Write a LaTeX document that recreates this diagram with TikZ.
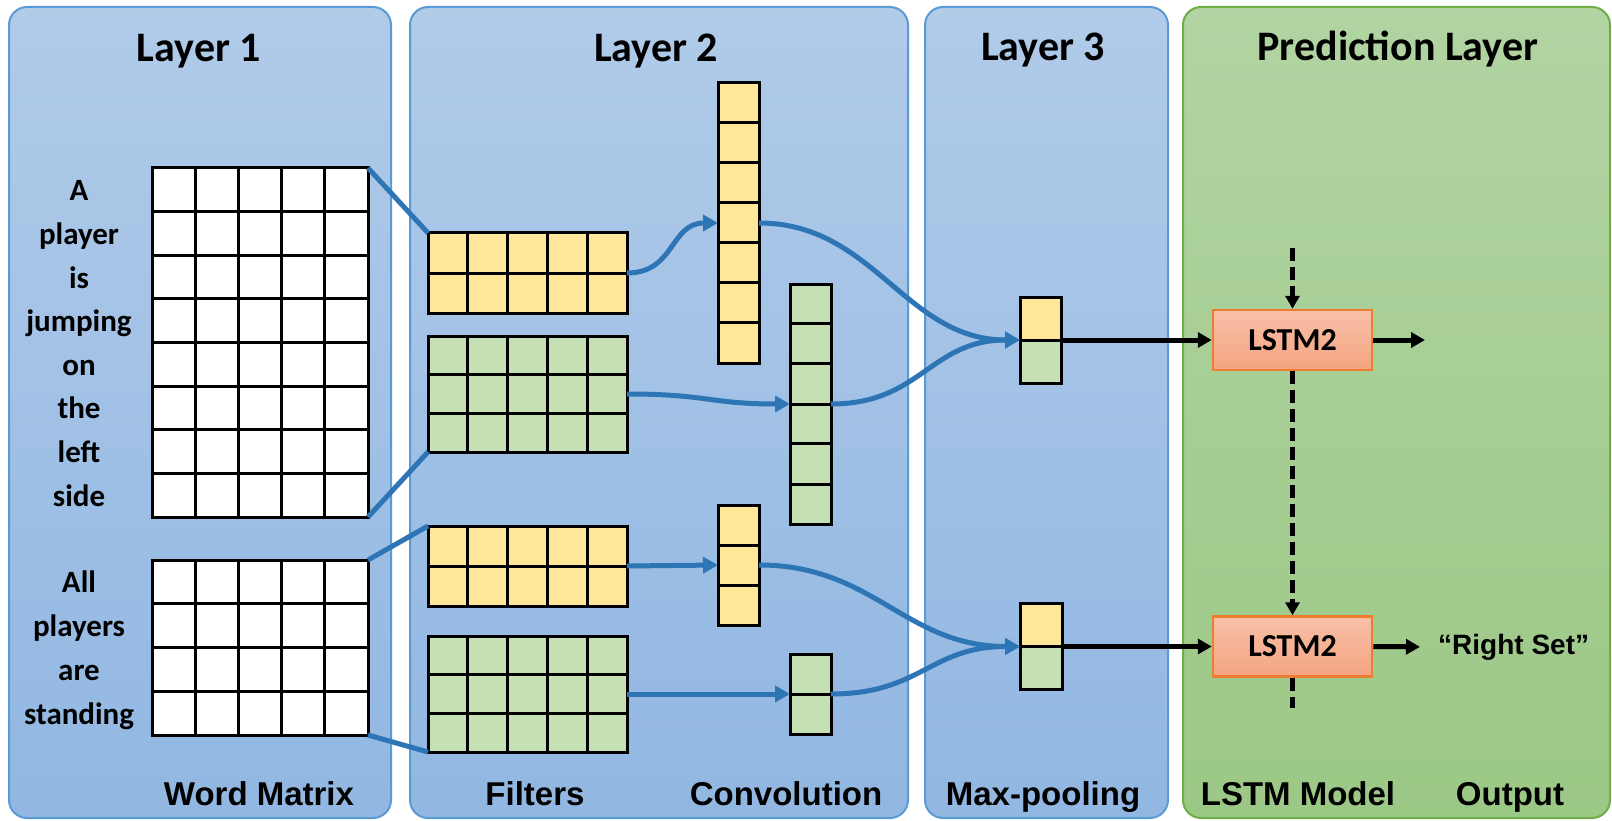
\documentclass[tikz,border=0pt]{standalone}
\usepackage{fontspec}
\setmainfont{Carlito}
\newfontfamily\labfont{Liberation Sans}
\usetikzlibrary{arrows.meta,calc}

\definecolor{bluetop}{RGB}{177,203,233}
\definecolor{bluebot}{RGB}{145,183,226}
\definecolor{blueedge}{RGB}{91,155,213}
\definecolor{greentop}{RGB}{177,212,162}
\definecolor{greenbot}{RGB}{156,200,134}
\definecolor{greenedge}{RGB}{112,173,71}
\definecolor{cellyellow}{RGB}{255,230,153}
\definecolor{cellgreen}{RGB}{197,224,180}
\definecolor{lstmtop}{RGB}{248,192,168}
\definecolor{lstmbot}{RGB}{244,164,128}
\definecolor{lstmedge}{RGB}{237,125,49}
\definecolor{connblue}{RGB}{46,117,182}

% inner lines of a cell grid drawn over a node
\newcommand\cellgrid[3]{%
  \ifnum#2>1
    \foreach \i in {2,...,#2}{%
      \pgfmathsetmacro\gf{(\i-1)/#2}%
      \draw[cellline] ($(#1.north west)!\gf!(#1.north east)$) -- ($(#1.south west)!\gf!(#1.south east)$);}%
  \fi
  \ifnum#3>1
    \foreach \j in {2,...,#3}{%
      \pgfmathsetmacro\gf{(\j-1)/#3}%
      \draw[cellline] ($(#1.north west)!\gf!(#1.south west)$) -- ($(#1.north east)!\gf!(#1.south east)$);}%
  \fi}

\tikzset{
  panel/.style={rounded corners=18pt, draw=blueedge, line width=2pt, top color=bluetop, bottom color=bluebot},
  gpanel/.style={rounded corners=18pt, draw=greenedge, line width=2pt, top color=greentop, bottom color=greenbot},
  title/.style={anchor=base, font=\bfseries\fontsize{42}{50}\selectfont},
  foot/.style={anchor=base, font=\labfont\bfseries\fontsize{33}{40}\selectfont},
  word/.style={anchor=base, font=\bfseries\fontsize{31}{36}\selectfont},
  gridbox/.style={draw=black, line width=3pt, inner sep=0pt, outer sep=0pt},
  cellline/.style={draw=black, line width=3pt},
  conn/.style={draw=connblue, line width=5pt},
  connarrow/.style={conn, -{Triangle[length=15pt,width=16pt]}},
  blk/.style={draw=black, line width=5pt, -{Triangle[length=14pt,width=15pt]}},
  dashline/.style={draw=black, line width=5pt, dash pattern=on 13pt off 6pt},
  lstmbox/.style={draw=lstmedge, line width=2.5pt, top color=lstmtop, bottom color=lstmbot,
    minimum width=159pt, minimum height=60pt, inner sep=0pt, font=\bfseries\fontsize{32}{36}\selectfont},
}

\begin{document}
\begin{tikzpicture}[x=1pt, y=-1pt]
\useasboundingbox (0,0) rectangle (1612,821);

% panels
\path[panel] (9,7) rectangle (391,818);
\path[panel] (410,7) rectangle (908,818);
\path[panel] (925,7) rectangle (1168,818);
\path[gpanel] (1183,7) rectangle (1610,818);

% titles
\node[title] (t1) at (199,62) {Layer 1};
\node[title] (t2) at (656,62) {Layer 2};
\node[title] (t3) at (1043,61) {Layer 3};
\node[title] (t4) at (1398,61) {Prediction Layer};

% bottom labels
\node[foot] (f1) at (259,805) {Word Matrix};
\node[foot] (f2) at (535,805) {Filters};
\node[foot] (f3) at (786,805) {Convolution};
\node[foot] (f4) at (1043,805) {Max-pooling};
\node[foot] (f5) at (1298,805) {LSTM Model};
\node[foot] (f6) at (1510,805) {Output};

% word matrices
\node[gridbox, fill=white, minimum width=216pt, minimum height=349pt] (m1) at (260,342.5) {};
\cellgrid{m1}{5}{8}
\node[gridbox, fill=white, minimum width=216pt, minimum height=175pt] (m2) at (260,647.5) {};
\cellgrid{m2}{5}{4}

% sentence words, one per row
\foreach \w [count=\k] in {A,player,is,jumping,on,the,left,side}
  \node[word] (wa\k) at (79,{168+43.6*(\k-0.5)+11}) {\w};
\foreach \w [count=\k] in {All,players,are,standing}
  \node[word] (wb\k) at (79,{560+43.75*(\k-0.5)+11}) {\w};

% filters
\node[gridbox, fill=cellyellow, minimum width=199pt, minimum height=80pt] (fy1) at (527.5,273) {};
\cellgrid{fy1}{5}{2}
\node[gridbox, fill=cellgreen, minimum width=199pt, minimum height=116pt] (fg1) at (527.5,394) {};
\cellgrid{fg1}{5}{3}
\node[gridbox, fill=cellyellow, minimum width=199pt, minimum height=80pt] (fy2) at (527.5,566) {};
\cellgrid{fy2}{5}{2}
\node[gridbox, fill=cellgreen, minimum width=199pt, minimum height=116pt] (fg2) at (527.5,694) {};
\cellgrid{fg2}{5}{3}

% convolution outputs
\node[gridbox, fill=cellyellow, minimum width=41pt, minimum height=280pt] (c1) at (738.5,223) {};
\cellgrid{c1}{1}{7}
\node[gridbox, fill=cellgreen, minimum width=41pt, minimum height=240pt] (c2) at (810.5,404) {};
\cellgrid{c2}{1}{6}
\node[gridbox, fill=cellyellow, minimum width=41pt, minimum height=120pt] (c3) at (738.5,565) {};
\cellgrid{c3}{1}{3}
\node[gridbox, fill=cellgreen, minimum width=41pt, minimum height=80pt] (c4) at (810.5,694) {};
\cellgrid{c4}{1}{2}

% max-pooling vectors
\node[gridbox, fill=cellyellow, minimum width=41pt, minimum height=43pt] (p1a) at (1040.5,318.5) {};
\node[gridbox, fill=cellgreen, minimum width=41pt, minimum height=43pt] (p1b) at (1040.5,361.5) {};
\node[gridbox, fill=cellyellow, minimum width=42pt, minimum height=43pt] (p2a) at (1041,625) {};
\node[gridbox, fill=cellgreen, minimum width=42pt, minimum height=43pt] (p2b) at (1041,668) {};

% LSTM cells
\node[lstmbox] (l1) at (1292.5,340) {LSTM2};
\node[lstmbox] (l2) at (1292.5,646.5) {LSTM2};
\node[anchor=west, inner sep=0pt, font=\labfont\bfseries\fontsize{28}{32}\selectfont] (rs) at (1438,647) {“Right Set”};

\coordinate (d0) at (1292.5,248);
\coordinate (d3) at (1292.5,708);
\coordinate (o1) at (1425,340);

% word matrix to filters
\draw[conn] (m1.north east) -- (fy1.north west);
\draw[conn] (m1.south east) -- (fg1.south west);
\draw[conn] (m2.north east) -- (fy2.north west);
\draw[conn] (m2.south east) -- (fg2.south west);

% filters to convolution
\draw[connarrow] (fy1.east) .. controls +(48,0) and +(-48,0) .. (c1.west);
\draw[connarrow] (fg1.east) .. controls +(80,0) and +(-80,0) .. (c2.west);
\draw[connarrow] (fy2.east) -- (c3.west);
\draw[connarrow] (fg2.east) -- (c4.west);

% convolution to max-pooling
\draw[connarrow] (c1.east) .. controls +(115,0) and +(-115,0) .. (p1a.south west);
\draw[connarrow] (c2.east) .. controls +(90,0) and +(-90,0) .. (p1a.south west);
\draw[connarrow] (c3.east) .. controls +(115,0) and +(-115,0) .. (p2a.south west);
\draw[connarrow] (c4.east) .. controls +(90,0) and +(-90,0) .. (p2a.south west);

% max-pooling to LSTM and outputs
\draw[blk] (p1a.south east) -- (l1.west);
\draw[blk] (p2a.south east) -- (l2.west);
\draw[blk] (l1.east) -- (o1);
\draw[blk, shorten >=18pt] (l2.east) -- (rs.west);

% recurrent links
\draw[dashline, -{Triangle[length=13pt,width=14pt]}] (d0) -- (l1.north);
\draw[dashline, -{Triangle[length=13pt,width=14pt]}] (l1.south) -- (l2.north);
\draw[dashline] (l2.south) -- (d3);
\end{tikzpicture}
\end{document}
